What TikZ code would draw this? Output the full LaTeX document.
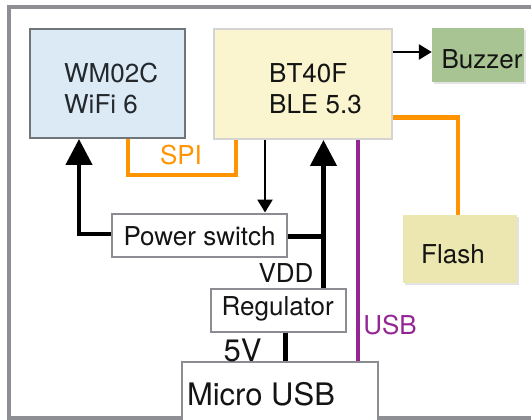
\documentclass[tikz,border=0pt]{standalone}
\usepackage{fontspec}
\setmainfont{TeX Gyre Heros}
\usetikzlibrary{arrows.meta,shadows}
\definecolor{framegray}{RGB}{142,143,148}
\definecolor{wmfill}{RGB}{220,234,245}
\definecolor{wmdraw}{RGB}{112,117,122}
\definecolor{btfill}{RGB}{250,245,206}
\definecolor{btdraw}{RGB}{212,212,212}
\definecolor{buzfill}{RGB}{168,196,146}
\definecolor{flfill}{RGB}{236,230,176}
\definecolor{boxgray}{RGB}{140,141,146}
\definecolor{spiorange}{RGB}{255,147,0}
\definecolor{usbpurple}{RGB}{148,38,148}
\definecolor{textblack}{RGB}{20,20,20}
\begin{document}
\begin{tikzpicture}[x=1pt,y=-1pt,
  box/.style={draw=boxgray, line width=2pt, fill=white, inner sep=0pt},
  lbl/.style={inner sep=0pt, font=\fontsize{26}{31.5}\selectfont, text=textblack},
  biglbl/.style={inner sep=0pt, font=\fontsize{31}{36}\selectfont, text=textblack},
  heavy/.style={line width=4.5pt, draw=black},
  heavyarrow/.style={heavy, -{Triangle[width=26pt,length=26pt]}},
  fine/.style={line width=2.5pt, draw=black},
  finearrow/.style={fine, -{Triangle[width=15pt,length=13pt]}},
  orangeline/.style={line width=4.5pt, draw=spiorange},
  purpleline/.style={line width=3.5pt, draw=usbpurple},
  shadowed/.style={drop shadow={opacity=0.22, shadow xshift=1.5pt, shadow yshift=-2pt}},
]
\clip (0,0) rectangle (531,420);
\draw[framegray, line width=4pt] (9,7) rectangle (560,418);

% boxes
\node[draw=wmdraw, fill=wmfill, line width=2pt, minimum width=155pt, minimum height=109pt, inner sep=0pt] (wm) at (107,83.5) {};
\node[lbl, anchor=west, align=left, text={rgb,255:red,35;green,40;blue,45}] (wmt) at (64,88.5) {WM02C\\WiFi 6};

\node[draw=btdraw, fill=btfill, line width=2pt, minimum width=178pt, minimum height=110pt, inner sep=0pt] (bt) at (302.5,84) {};
\node[lbl, anchor=west, align=left] (btt) at (269,88.5) {BT40F\\BLE 5.3};

\node[fill=buzfill, shadowed, minimum width=92pt, minimum height=54pt, inner sep=0pt] (bz) at (478,55) {};
\node[lbl] (bzt) at (482,59) {Buzzer};

\node[fill=flfill, shadowed, minimum width=114pt, minimum height=68pt, inner sep=0pt] (fl) at (460,249) {};
\node[lbl] (flt) at (453,254) {Flash};

\node[box, minimum width=175.5pt, minimum height=43pt] (ps) at (199.5,235) {};
\node[lbl] (pst) at (199.5,236.4) {Power switch};

\node[box, minimum width=135pt, minimum height=43pt] (reg) at (278,310.7) {};
\node[lbl] (regt) at (277.7,308.5) {Regulator};

\node[box, minimum width=196pt, minimum height=96.5pt] (usb) at (279.75,410.25) {};
\node[biglbl] (usbt) at (261,394) {Micro USB};

% connectors
\draw[finearrow] ([yshift=3pt]bz.west -| bt.east) -- ([yshift=3pt]bz.west);
\draw[orangeline] ([yshift=-33.5pt]bt.east) -| ([xshift=-2.2pt]fl.north);
\draw[orangeline] ([xshift=21pt]wm.south) -- ++(0,36) -| ([xshift=-66.5pt]bt.south);
\node[inner sep=0pt, font=\fontsize{26}{31}\selectfont, text=spiorange] (spi) at (181,155) {SPI};

\draw[finearrow] ([xshift=-37.5pt]bt.south) -- ([xshift=-37.5pt]bt.south |- ps.north);
\draw[heavyarrow] ([xshift=45.5pt]reg.north) -- ([xshift=45.5pt]reg.north |- bt.south);
\draw[heavy] ([yshift=-1.5pt]ps.east) -- ([yshift=-1.5pt,xshift=45.5pt]ps.east -| reg.north);
\draw[heavyarrow] ([yshift=1pt]ps.west) -| ([xshift=-28pt]wm.south);
\node[lbl] (vdd) at (286,273.5) {VDD};

\draw[heavy] ([xshift=7.5pt]reg.south) -- ([xshift=7.5pt]reg.south |- usb.north);
\node[biglbl] (fivev) at (242.5,350) {5V};

\draw[purpleline] ([xshift=55.5pt]bt.south) -- ([xshift=55.5pt]bt.south |- usb.north);
\node[inner sep=0pt, font=\fontsize{26}{31}\selectfont, text=usbpurple] (usbl) at (390,325) {USB};
\end{tikzpicture}
\end{document}
